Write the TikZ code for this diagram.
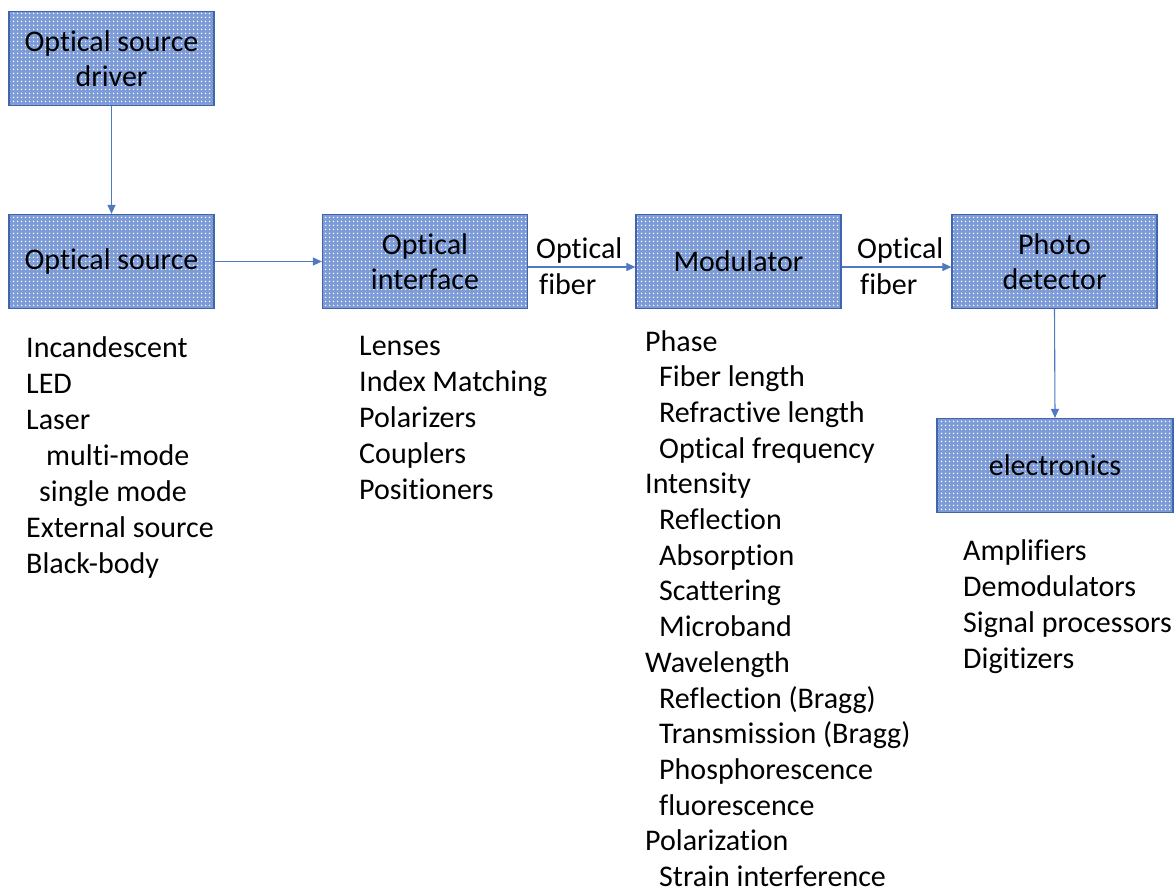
\documentclass[tikz,border=0pt]{standalone}
\usepackage{fontspec}
\setmainfont{Carlito}[Ligatures=NoCommon]
\usetikzlibrary{arrows.meta,patterns.meta}

\definecolor{edge}{RGB}{65,100,175}
\definecolor{boxfill}{RGB}{125,155,215}
\definecolor{link}{RGB}{80,120,195}

% white dot grid laid over the blue fill of the boxes
\tikzdeclarepattern{
  name=wdots, type=uncolored,
  bounding box={(0pt,0pt) and (4pt,4pt)},
  tile size={(4pt,4pt)},
  code={\fill (2pt,2pt) circle (0.95pt);}
}

\tikzset{
  box/.style={draw=edge, line width=1.2pt, preaction={fill=boxfill},
    pattern=wdots, pattern color=white,
    minimum width=205pt, minimum height=94pt, inner sep=0pt,
    align=center, font=\fontsize{30}{35.5}\selectfont},
  link/.style={draw=link, line width=1.1pt, -{Triangle[length=9pt,width=8pt]}},
  item/.style={anchor=base west, inner sep=0pt, font=\fontsize{30}{36}\selectfont},
  fiberlbl/.style={align=left, inner sep=0pt, font=\fontsize{30}{36}\selectfont}
}

\begin{document}
\begin{tikzpicture}[x=1pt,y=-1pt]
\useasboundingbox (0,0) rectangle (1175,891);

% main chain of blocks
\node[box] (driver) at (111.5,58.5) {Optical source\\driver};
\node[box] (source) at (111.5,261.5) {Optical source};
\node[box] (iface)  at (425,261.5) {Optical\\interface};
\node[box] (mod)    at (738.5,261.5) {Modulator};
\node[box] (det)    at (1054.5,261.5) {Photo\\detector};
\node[box, minimum width=236pt] (elec) at (1055,465.5) {electronics};

% connectors
\draw[link] (driver.south) -- (source.north);
\draw[link] (source.east) -- (iface.west);
\draw[link] (iface.east |- 0,267) -- (mod.west |- 0,267);
\draw[link] (mod.east |- 0,267) -- (det.west |- 0,267);
\draw[link] (det.south) -- (elec.north);

% fibre labels
\node[fiberlbl, anchor=west] (fib1) at (536,266) {Optical\\\hspace*{3pt}fiber};
\node[fiberlbl, anchor=west] (fib2) at (857,266) {Optical\\\hspace*{3pt}fiber};

% source types
\foreach \t [count=\i] in {Incandescent, LED, Laser,
    {\hspace*{20pt}multi-mode}, {\hspace*{13pt}single mode},
    External source, Black-body}
  \node[item] (src\i) at (26,357+36*\i-36) {\t};

% interface components
\foreach \t [count=\i] in {Lenses, Index Matching, Polarizers, Couplers, Positioners}
  \node[item] (ifc\i) at (359,355+36*\i-36) {\t};

% modulation mechanisms
\foreach \t [count=\i] in {Phase,
    {\hspace*{14pt}Fiber length}, {\hspace*{14pt}Refractive length},
    {\hspace*{14pt}Optical frequency},
    Intensity,
    {\hspace*{14pt}Reflection}, {\hspace*{14pt}Absorption},
    {\hspace*{14pt}Scattering}, {\hspace*{14pt}Microband},
    Wavelength,
    {\hspace*{14pt}Reflection (Bragg)}, {\hspace*{14pt}Transmission (Bragg)},
    {\hspace*{14pt}Phosphorescence}, {\hspace*{14pt}fluorescence},
    Polarization,
    {\hspace*{14pt}Strain interference}}
  \node[item] (mdl\i) at (645,351+35.7*\i-35.7) {\t};

% electronics functions
\foreach \t [count=\i] in {Amplifiers, Demodulators, Signal processors, Digitizers}
  \node[item] (elc\i) at (963,560+36*\i-36) {\t};
\end{tikzpicture}
\end{document}
